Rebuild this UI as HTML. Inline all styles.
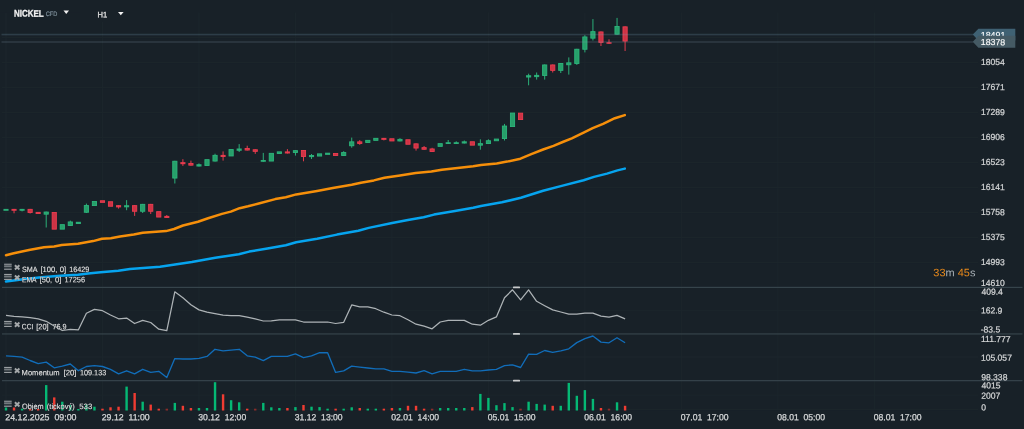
<!DOCTYPE html>
<html lang="cs">
<head>
<meta charset="utf-8">
<title>NICKEL CFD H1</title>
<style>
html,body{margin:0;padding:0;background:#182128;}
body{width:1024px;height:429px;overflow:hidden;}
svg{display:block;font-family:"Liberation Sans",sans-serif;}
.ax{fill:#d4d6d7;stroke:#d4d6d7;stroke-width:0.25px;}
.wh{fill:#ffffff;stroke:#ffffff;stroke-width:0.15px;}
.tm{fill:#d4d6d7;stroke:#d4d6d7;stroke-width:0.3px;}
.in{fill:#e6e6e6;stroke:#e6e6e6;stroke-width:0.12px;}
.sym{fill:#f4f4f4;stroke:#f4f4f4;stroke-width:0.3px;}
.cfd{fill:#7e909b;stroke:#7e909b;stroke-width:0.3px;}
.h1{fill:#dcdcdc;stroke:#dcdcdc;stroke-width:0.45px;}
.cd{stroke-width:0;}
</style>
</head>
<body>
<svg width="1024" height="429" viewBox="0 0 1024 429">
<defs><filter id="halo" x="-10%" y="-30%" width="120%" height="160%" color-interpolation-filters="sRGB"><feGaussianBlur in="SourceAlpha" stdDeviation="0.6" result="b"/><feComponentTransfer in="b" result="d"><feFuncA type="linear" slope="1.0"/></feComponentTransfer><feFlood flood-color="#182128" flood-opacity="1"/><feComposite in2="d" operator="in" result="h"/><feMerge><feMergeNode in="h"/><feMergeNode in="SourceGraphic"/></feMerge></filter></defs>
<rect width="1024" height="429" fill="#182128"/>
<g stroke="#1c262c" stroke-width="1" fill="none">
<line x1="6.00" y1="12.5" x2="6.00" y2="410"/>
<line x1="102.48" y1="12.5" x2="102.48" y2="410"/>
<line x1="198.96" y1="12.5" x2="198.96" y2="410"/>
<line x1="295.44" y1="12.5" x2="295.44" y2="410"/>
<line x1="391.92" y1="12.5" x2="391.92" y2="410"/>
<line x1="488.40" y1="12.5" x2="488.40" y2="410"/>
<line x1="584.88" y1="12.5" x2="584.88" y2="410"/>
<line x1="681.36" y1="12.5" x2="681.36" y2="410"/>
<line x1="777.84" y1="12.5" x2="777.84" y2="410"/>
<line x1="874.32" y1="12.5" x2="874.32" y2="410"/>
<line x1="2" y1="37.60" x2="978" y2="37.60"/>
<line x1="2" y1="62.60" x2="978" y2="62.60"/>
<line x1="2" y1="87.60" x2="978" y2="87.60"/>
<line x1="2" y1="112.60" x2="978" y2="112.60"/>
<line x1="2" y1="137.60" x2="978" y2="137.60"/>
<line x1="2" y1="162.60" x2="978" y2="162.60"/>
<line x1="2" y1="187.60" x2="978" y2="187.60"/>
<line x1="2" y1="212.60" x2="978" y2="212.60"/>
<line x1="2" y1="237.60" x2="978" y2="237.60"/>
<line x1="2" y1="262.60" x2="978" y2="262.60"/>
<line x1="2" y1="310.70" x2="978" y2="310.70"/>
<line x1="2" y1="357.00" x2="978" y2="357.00"/>
<line x1="2" y1="395.10" x2="978" y2="395.10"/>
<line x1="2" y1="409.60" x2="978" y2="409.60"/>
</g>
<rect x="0" y="0" width="80" height="12.5" fill="#182128"/>
<rect x="92" y="0" width="40" height="22" fill="#182128"/>
<g>
<rect x="4.80" y="407.50" width="2.4" height="3.00" fill="#05b874"/>
<rect x="12.84" y="407.50" width="2.4" height="3.00" fill="#f03c32"/>
<rect x="20.88" y="408.70" width="2.4" height="1.80" fill="#05b874"/>
<rect x="28.92" y="409.00" width="2.4" height="1.50" fill="#f03c32"/>
<rect x="36.96" y="409.00" width="2.4" height="1.50" fill="#f03c32"/>
<rect x="45.00" y="385.10" width="2.4" height="25.40" fill="#05b874"/>
<rect x="53.04" y="397.40" width="2.4" height="13.10" fill="#f03c32"/>
<rect x="61.08" y="401.70" width="2.4" height="8.80" fill="#05b874"/>
<rect x="69.12" y="405.20" width="2.4" height="5.30" fill="#05b874"/>
<rect x="77.16" y="409.00" width="2.4" height="1.50" fill="#05b874"/>
<rect x="85.20" y="404.60" width="2.4" height="5.90" fill="#05b874"/>
<rect x="93.24" y="406.70" width="2.4" height="3.80" fill="#05b874"/>
<rect x="101.28" y="408.70" width="2.4" height="1.80" fill="#f03c32"/>
<rect x="109.32" y="407.30" width="2.4" height="3.20" fill="#f03c32"/>
<rect x="117.36" y="406.70" width="2.4" height="3.80" fill="#f03c32"/>
<rect x="125.40" y="386.60" width="2.4" height="23.90" fill="#05b874"/>
<rect x="133.44" y="393.00" width="2.4" height="17.50" fill="#f03c32"/>
<rect x="141.48" y="401.70" width="2.4" height="8.80" fill="#05b874"/>
<rect x="149.52" y="404.60" width="2.4" height="5.90" fill="#f03c32"/>
<rect x="157.56" y="408.70" width="2.4" height="1.80" fill="#f03c32"/>
<rect x="165.60" y="408.70" width="2.4" height="1.80" fill="#8a2c2a"/>
<rect x="173.64" y="402.90" width="2.4" height="7.60" fill="#05b874"/>
<rect x="181.68" y="405.80" width="2.4" height="4.70" fill="#f03c32"/>
<rect x="189.72" y="408.00" width="2.4" height="2.50" fill="#f03c32"/>
<rect x="197.76" y="408.00" width="2.4" height="2.50" fill="#05b874"/>
<rect x="205.80" y="408.00" width="2.4" height="2.50" fill="#05b874"/>
<rect x="213.84" y="382.20" width="2.4" height="28.30" fill="#05b874"/>
<rect x="221.88" y="394.30" width="2.4" height="16.20" fill="#f03c32"/>
<rect x="229.92" y="400.20" width="2.4" height="10.30" fill="#05b874"/>
<rect x="237.96" y="402.30" width="2.4" height="8.20" fill="#05b874"/>
<rect x="246.00" y="408.70" width="2.4" height="1.80" fill="#f03c32"/>
<rect x="254.04" y="408.70" width="2.4" height="1.80" fill="#8a2c2a"/>
<rect x="262.08" y="402.90" width="2.4" height="7.60" fill="#05b874"/>
<rect x="270.12" y="407.30" width="2.4" height="3.20" fill="#05b874"/>
<rect x="278.16" y="408.00" width="2.4" height="2.50" fill="#05b874"/>
<rect x="286.20" y="408.00" width="2.4" height="2.50" fill="#f03c32"/>
<rect x="294.24" y="407.10" width="2.4" height="3.40" fill="#05b874"/>
<rect x="302.28" y="405.00" width="2.4" height="5.50" fill="#f03c32"/>
<rect x="310.32" y="406.70" width="2.4" height="3.80" fill="#05b874"/>
<rect x="318.36" y="407.10" width="2.4" height="3.40" fill="#05b874"/>
<rect x="326.40" y="408.70" width="2.4" height="1.80" fill="#05b874"/>
<rect x="334.44" y="408.70" width="2.4" height="1.80" fill="#f03c32"/>
<rect x="342.48" y="408.70" width="2.4" height="1.80" fill="#05b874"/>
<rect x="350.52" y="407.30" width="2.4" height="3.20" fill="#05b874"/>
<rect x="358.56" y="408.00" width="2.4" height="2.50" fill="#f03c32"/>
<rect x="366.60" y="408.70" width="2.4" height="1.80" fill="#05b874"/>
<rect x="374.64" y="408.70" width="2.4" height="1.80" fill="#05b874"/>
<rect x="382.68" y="408.70" width="2.4" height="1.80" fill="#f03c32"/>
<rect x="390.72" y="408.00" width="2.4" height="2.50" fill="#f03c32"/>
<rect x="398.76" y="408.00" width="2.4" height="2.50" fill="#05b874"/>
<rect x="406.80" y="405.80" width="2.4" height="4.70" fill="#f03c32"/>
<rect x="414.84" y="405.80" width="2.4" height="4.70" fill="#f03c32"/>
<rect x="422.88" y="408.70" width="2.4" height="1.80" fill="#f03c32"/>
<rect x="430.92" y="408.70" width="2.4" height="1.80" fill="#8a2c2a"/>
<rect x="438.96" y="408.00" width="2.4" height="2.50" fill="#05b874"/>
<rect x="447.00" y="408.00" width="2.4" height="2.50" fill="#05b874"/>
<rect x="455.04" y="408.00" width="2.4" height="2.50" fill="#05b874"/>
<rect x="463.08" y="408.00" width="2.4" height="2.50" fill="#05b874"/>
<rect x="471.12" y="407.10" width="2.4" height="3.40" fill="#f03c32"/>
<rect x="479.16" y="393.90" width="2.4" height="16.60" fill="#05b874"/>
<rect x="487.20" y="397.90" width="2.4" height="12.60" fill="#05b874"/>
<rect x="495.24" y="405.20" width="2.4" height="5.30" fill="#05b874"/>
<rect x="503.28" y="403.10" width="2.4" height="7.40" fill="#05b874"/>
<rect x="511.32" y="407.10" width="2.4" height="3.40" fill="#05b874"/>
<rect x="519.36" y="408.70" width="2.4" height="1.80" fill="#8a2c2a"/>
<rect x="527.40" y="401.70" width="2.4" height="8.80" fill="#05b874"/>
<rect x="535.44" y="403.90" width="2.4" height="6.60" fill="#05b874"/>
<rect x="543.48" y="404.60" width="2.4" height="5.90" fill="#05b874"/>
<rect x="551.52" y="405.80" width="2.4" height="4.70" fill="#f03c32"/>
<rect x="559.56" y="405.80" width="2.4" height="4.70" fill="#05b874"/>
<rect x="567.60" y="382.90" width="2.4" height="27.60" fill="#05b874"/>
<rect x="575.64" y="395.80" width="2.4" height="14.70" fill="#05b874"/>
<rect x="583.68" y="390.10" width="2.4" height="20.40" fill="#05b874"/>
<rect x="591.72" y="398.90" width="2.4" height="11.60" fill="#05b874"/>
<rect x="599.76" y="408.00" width="2.4" height="2.50" fill="#f03c32"/>
<rect x="607.80" y="408.70" width="2.4" height="1.80" fill="#8a2c2a"/>
<rect x="615.84" y="402.30" width="2.4" height="8.20" fill="#05b874"/>
<rect x="623.88" y="405.80" width="2.4" height="4.70" fill="#f03c32"/>
</g>
<path d="M6.0 281.6 L25.2 278.9 L41.5 277.3 L60.4 275.7 L78.0 274.8 L88.1 273.5 L100.7 272.2 L118.3 270.8 L130.0 268.9 L160.0 266.7 L191.8 262.0 L215.3 257.8 L238.8 254.2 L249.2 251.6 L267.5 248.4 L285.8 245.3 L296.2 242.2 L317.1 238.8 L337.0 234.6 L358.3 230.8 L368.7 227.9 L392.2 223.0 L407.9 220.1 L423.6 217.2 L434.0 214.6 L454.9 210.9 L473.2 207.8 L481.0 206.0 L501.9 202.3 L520.9 197.8 L543.1 190.8 L562.7 185.6 L583.6 180.3 L594.0 176.9 L607.0 173.6 L617.5 170.4 L624.8 168.6" stroke="#06a4ef" stroke-width="2.5" fill="none" stroke-linejoin="round" stroke-linecap="round"/>
<path d="M6.0 255.2 L13.8 253.2 L29.0 250.0 L44.0 247.3 L54.1 246.4 L61.7 245.0 L78.0 243.8 L93.1 241.1 L102.0 238.7 L110.8 238.2 L120.0 236.5 L133.8 234.6 L142.7 232.8 L166.0 231.1 L174.1 229.0 L183.0 225.5 L198.0 221.7 L208.1 218.3 L222.0 213.9 L230.8 211.6 L239.6 208.2 L248.0 206.3 L259.7 203.3 L275.3 199.1 L285.8 197.3 L296.2 194.4 L317.1 191.0 L332.8 188.1 L351.7 184.8 L360.9 182.7 L373.9 180.4 L384.4 177.8 L400.0 175.4 L415.7 173.1 L431.4 171.5 L441.8 169.7 L457.5 167.9 L473.2 166.3 L481.0 165.0 L496.7 163.4 L507.1 161.6 L520.5 158.7 L531.3 154.2 L543.1 149.5 L553.5 145.9 L562.7 142.0 L571.8 138.3 L583.6 132.6 L592.7 128.1 L603.1 123.9 L614.9 118.2 L624.8 115.1" stroke="#f68f0a" stroke-width="2.5" fill="none" stroke-linejoin="round" stroke-linecap="round"/>
<g>
<rect x="3.45" y="208.90" width="5.1" height="1.90" fill="#2cb67c" opacity="0.95"/>
<rect x="13.54" y="208.90" width="1" height="4.40" fill="#ee3c4f" opacity="0.95"/>
<rect x="11.49" y="208.90" width="5.1" height="1.90" fill="#ee3c4f" opacity="0.95"/>
<rect x="21.58" y="208.90" width="1" height="2.50" fill="#2cb67c" opacity="0.95"/>
<rect x="19.53" y="208.90" width="5.1" height="1.90" fill="#2cb67c" opacity="0.95"/>
<rect x="29.62" y="208.90" width="1" height="4.60" fill="#ee3c4f" opacity="0.95"/>
<rect x="28.02" y="209.35" width="4.2" height="3.10" fill="#cd3345" stroke="#ee3c4f" stroke-width="0.9"/>
<rect x="35.61" y="211.90" width="5.1" height="2.10" fill="#ee3c4f" opacity="0.95"/>
<rect x="45.70" y="211.60" width="1" height="15.90" fill="#2cb67c" opacity="0.95"/>
<rect x="44.10" y="212.05" width="4.2" height="2.10" fill="#279f6a" stroke="#2cb67c" stroke-width="0.9"/>
<rect x="52.14" y="212.45" width="4.2" height="16.70" fill="#cd3345" stroke="#ee3c4f" stroke-width="0.9"/>
<rect x="60.18" y="224.65" width="4.2" height="4.50" fill="#279f6a" stroke="#2cb67c" stroke-width="0.9"/>
<rect x="69.82" y="220.60" width="1" height="5.30" fill="#2cb67c" opacity="0.95"/>
<rect x="68.22" y="221.95" width="4.2" height="3.50" fill="#279f6a" stroke="#2cb67c" stroke-width="0.9"/>
<rect x="75.81" y="221.80" width="5.1" height="2.20" fill="#2cb67c" opacity="0.95"/>
<rect x="85.90" y="203.60" width="1" height="9.40" fill="#2cb67c" opacity="0.95"/>
<rect x="84.30" y="205.55" width="4.2" height="6.70" fill="#279f6a" stroke="#2cb67c" stroke-width="0.9"/>
<rect x="92.34" y="201.45" width="4.2" height="4.10" fill="#279f6a" stroke="#2cb67c" stroke-width="0.9"/>
<rect x="100.38" y="200.75" width="4.2" height="1.60" fill="#cd3345" stroke="#ee3c4f" stroke-width="0.9"/>
<rect x="108.42" y="201.75" width="4.2" height="4.50" fill="#cd3345" stroke="#ee3c4f" stroke-width="0.9"/>
<rect x="118.06" y="205.10" width="1" height="3.50" fill="#ee3c4f" opacity="0.95"/>
<rect x="116.01" y="205.10" width="5.1" height="2.30" fill="#ee3c4f" opacity="0.95"/>
<rect x="126.10" y="200.10" width="1" height="10.10" fill="#2cb67c" opacity="0.95"/>
<rect x="124.05" y="205.20" width="5.1" height="2.10" fill="#2cb67c" opacity="0.95"/>
<rect x="134.14" y="205.20" width="1" height="10.70" fill="#ee3c4f" opacity="0.95"/>
<rect x="132.54" y="205.65" width="4.2" height="5.60" fill="#cd3345" stroke="#ee3c4f" stroke-width="0.9"/>
<rect x="142.18" y="203.90" width="1" height="9.10" fill="#2cb67c" opacity="0.95"/>
<rect x="140.58" y="204.35" width="4.2" height="6.90" fill="#279f6a" stroke="#2cb67c" stroke-width="0.9"/>
<rect x="150.22" y="203.90" width="1" height="10.10" fill="#ee3c4f" opacity="0.95"/>
<rect x="148.62" y="204.35" width="4.2" height="6.90" fill="#cd3345" stroke="#ee3c4f" stroke-width="0.9"/>
<rect x="156.66" y="211.65" width="4.2" height="5.40" fill="#cd3345" stroke="#ee3c4f" stroke-width="0.9"/>
<rect x="166.30" y="215.00" width="1" height="3.00" fill="#ee3c4f" opacity="0.95"/>
<rect x="164.25" y="215.90" width="5.1" height="2.10" fill="#ee3c4f" opacity="0.95"/>
<rect x="174.34" y="160.80" width="1" height="22.70" fill="#2cb67c" opacity="0.95"/>
<rect x="172.74" y="161.25" width="4.2" height="16.80" fill="#279f6a" stroke="#2cb67c" stroke-width="0.9"/>
<rect x="182.38" y="159.20" width="1" height="6.70" fill="#ee3c4f" opacity="0.95"/>
<rect x="180.33" y="162.10" width="5.1" height="2.10" fill="#ee3c4f" opacity="0.95"/>
<rect x="190.42" y="160.60" width="1" height="5.00" fill="#ee3c4f" opacity="0.95"/>
<rect x="188.82" y="163.45" width="4.2" height="1.70" fill="#cd3345" stroke="#ee3c4f" stroke-width="0.9"/>
<rect x="198.46" y="163.40" width="1" height="3.10" fill="#2cb67c" opacity="0.95"/>
<rect x="196.41" y="164.20" width="5.1" height="2.30" fill="#2cb67c" opacity="0.95"/>
<rect x="204.90" y="159.65" width="4.2" height="5.80" fill="#279f6a" stroke="#2cb67c" stroke-width="0.9"/>
<rect x="214.54" y="153.70" width="1" height="7.80" fill="#2cb67c" opacity="0.95"/>
<rect x="212.94" y="155.35" width="4.2" height="5.70" fill="#279f6a" stroke="#2cb67c" stroke-width="0.9"/>
<rect x="222.58" y="151.40" width="1" height="9.20" fill="#ee3c4f" opacity="0.95"/>
<rect x="220.53" y="154.90" width="5.1" height="2.10" fill="#ee3c4f" opacity="0.95"/>
<rect x="229.02" y="149.55" width="4.2" height="6.40" fill="#279f6a" stroke="#2cb67c" stroke-width="0.9"/>
<rect x="238.66" y="144.10" width="1" height="7.90" fill="#2cb67c" opacity="0.95"/>
<rect x="236.61" y="148.50" width="5.1" height="2.30" fill="#2cb67c" opacity="0.95"/>
<rect x="246.70" y="145.70" width="1" height="4.80" fill="#ee3c4f" opacity="0.95"/>
<rect x="245.10" y="148.45" width="4.2" height="1.60" fill="#cd3345" stroke="#ee3c4f" stroke-width="0.9"/>
<rect x="254.74" y="149.30" width="1" height="4.60" fill="#ee3c4f" opacity="0.95"/>
<rect x="253.14" y="149.75" width="4.2" height="1.60" fill="#cd3345" stroke="#ee3c4f" stroke-width="0.9"/>
<rect x="262.78" y="152.90" width="1" height="8.90" fill="#2cb67c" opacity="0.95"/>
<rect x="260.73" y="160.00" width="5.1" height="1.80" fill="#2cb67c" opacity="0.95"/>
<rect x="269.22" y="153.35" width="4.2" height="7.70" fill="#279f6a" stroke="#2cb67c" stroke-width="0.9"/>
<rect x="277.26" y="151.85" width="4.2" height="1.60" fill="#279f6a" stroke="#2cb67c" stroke-width="0.9"/>
<rect x="286.90" y="149.10" width="1" height="4.40" fill="#ee3c4f" opacity="0.95"/>
<rect x="284.85" y="151.40" width="5.1" height="2.10" fill="#ee3c4f" opacity="0.95"/>
<rect x="294.94" y="150.20" width="1" height="5.40" fill="#2cb67c" opacity="0.95"/>
<rect x="293.34" y="150.65" width="4.2" height="1.90" fill="#279f6a" stroke="#2cb67c" stroke-width="0.9"/>
<rect x="302.98" y="150.00" width="1" height="11.30" fill="#ee3c4f" opacity="0.95"/>
<rect x="301.38" y="150.45" width="4.2" height="6.00" fill="#cd3345" stroke="#ee3c4f" stroke-width="0.9"/>
<rect x="311.02" y="154.00" width="1" height="5.00" fill="#2cb67c" opacity="0.95"/>
<rect x="308.97" y="155.00" width="5.1" height="2.10" fill="#2cb67c" opacity="0.95"/>
<rect x="317.46" y="153.85" width="4.2" height="2.20" fill="#279f6a" stroke="#2cb67c" stroke-width="0.9"/>
<rect x="325.05" y="152.70" width="5.1" height="2.20" fill="#2cb67c" opacity="0.95"/>
<rect x="333.54" y="153.45" width="4.2" height="2.00" fill="#cd3345" stroke="#ee3c4f" stroke-width="0.9"/>
<rect x="343.18" y="151.20" width="1" height="4.70" fill="#2cb67c" opacity="0.95"/>
<rect x="341.58" y="152.55" width="4.2" height="2.90" fill="#279f6a" stroke="#2cb67c" stroke-width="0.9"/>
<rect x="351.22" y="137.60" width="1" height="10.10" fill="#2cb67c" opacity="0.95"/>
<rect x="349.62" y="141.85" width="4.2" height="3.90" fill="#279f6a" stroke="#2cb67c" stroke-width="0.9"/>
<rect x="359.26" y="140.10" width="1" height="4.70" fill="#ee3c4f" opacity="0.95"/>
<rect x="357.66" y="141.85" width="4.2" height="1.60" fill="#cd3345" stroke="#ee3c4f" stroke-width="0.9"/>
<rect x="365.70" y="140.35" width="4.2" height="2.10" fill="#279f6a" stroke="#2cb67c" stroke-width="0.9"/>
<rect x="373.74" y="138.35" width="4.2" height="2.00" fill="#279f6a" stroke="#2cb67c" stroke-width="0.9"/>
<rect x="383.38" y="137.90" width="1" height="2.50" fill="#ee3c4f" opacity="0.95"/>
<rect x="381.33" y="137.90" width="5.1" height="2.00" fill="#ee3c4f" opacity="0.95"/>
<rect x="389.82" y="138.75" width="4.2" height="2.20" fill="#cd3345" stroke="#ee3c4f" stroke-width="0.9"/>
<rect x="399.46" y="138.20" width="1" height="3.20" fill="#2cb67c" opacity="0.95"/>
<rect x="397.86" y="139.35" width="4.2" height="1.60" fill="#279f6a" stroke="#2cb67c" stroke-width="0.9"/>
<rect x="405.90" y="139.75" width="4.2" height="4.50" fill="#cd3345" stroke="#ee3c4f" stroke-width="0.9"/>
<rect x="415.54" y="143.40" width="1" height="7.20" fill="#ee3c4f" opacity="0.95"/>
<rect x="413.94" y="143.85" width="4.2" height="4.20" fill="#cd3345" stroke="#ee3c4f" stroke-width="0.9"/>
<rect x="423.58" y="146.00" width="1" height="3.70" fill="#ee3c4f" opacity="0.95"/>
<rect x="421.98" y="147.65" width="4.2" height="1.60" fill="#cd3345" stroke="#ee3c4f" stroke-width="0.9"/>
<rect x="431.62" y="147.80" width="1" height="4.10" fill="#ee3c4f" opacity="0.95"/>
<rect x="430.02" y="148.95" width="4.2" height="2.50" fill="#cd3345" stroke="#ee3c4f" stroke-width="0.9"/>
<rect x="438.06" y="143.65" width="4.2" height="2.70" fill="#279f6a" stroke="#2cb67c" stroke-width="0.9"/>
<rect x="447.70" y="140.00" width="1" height="4.00" fill="#2cb67c" opacity="0.95"/>
<rect x="445.65" y="142.20" width="5.1" height="1.80" fill="#2cb67c" opacity="0.95"/>
<rect x="455.74" y="141.30" width="1" height="2.70" fill="#2cb67c" opacity="0.95"/>
<rect x="453.69" y="142.20" width="5.1" height="1.80" fill="#2cb67c" opacity="0.95"/>
<rect x="463.78" y="140.50" width="1" height="3.00" fill="#2cb67c" opacity="0.95"/>
<rect x="461.73" y="141.30" width="5.1" height="2.20" fill="#2cb67c" opacity="0.95"/>
<rect x="470.22" y="141.75" width="4.2" height="3.40" fill="#cd3345" stroke="#ee3c4f" stroke-width="0.9"/>
<rect x="479.86" y="139.30" width="1" height="10.40" fill="#2cb67c" opacity="0.95"/>
<rect x="478.26" y="143.65" width="4.2" height="1.50" fill="#279f6a" stroke="#2cb67c" stroke-width="0.9"/>
<rect x="487.90" y="139.30" width="1" height="4.70" fill="#2cb67c" opacity="0.95"/>
<rect x="486.30" y="140.75" width="4.2" height="2.80" fill="#279f6a" stroke="#2cb67c" stroke-width="0.9"/>
<rect x="494.34" y="139.05" width="4.2" height="1.70" fill="#279f6a" stroke="#2cb67c" stroke-width="0.9"/>
<rect x="503.98" y="123.90" width="1" height="16.60" fill="#2cb67c" opacity="0.95"/>
<rect x="502.38" y="126.05" width="4.2" height="12.50" fill="#279f6a" stroke="#2cb67c" stroke-width="0.9"/>
<rect x="510.42" y="113.05" width="4.2" height="13.50" fill="#279f6a" stroke="#2cb67c" stroke-width="0.9"/>
<rect x="518.46" y="113.15" width="4.2" height="6.40" fill="#cd3345" stroke="#ee3c4f" stroke-width="0.9"/>
<rect x="528.10" y="73.70" width="1" height="11.60" fill="#2cb67c" opacity="0.95"/>
<rect x="526.05" y="75.20" width="5.1" height="2.30" fill="#2cb67c" opacity="0.95"/>
<rect x="536.14" y="72.50" width="1" height="7.10" fill="#2cb67c" opacity="0.95"/>
<rect x="534.09" y="74.90" width="5.1" height="2.20" fill="#2cb67c" opacity="0.95"/>
<rect x="544.18" y="64.50" width="1" height="15.10" fill="#2cb67c" opacity="0.95"/>
<rect x="542.58" y="64.95" width="4.2" height="10.50" fill="#279f6a" stroke="#2cb67c" stroke-width="0.9"/>
<rect x="552.22" y="64.50" width="1" height="8.00" fill="#ee3c4f" opacity="0.95"/>
<rect x="550.62" y="64.95" width="4.2" height="5.40" fill="#cd3345" stroke="#ee3c4f" stroke-width="0.9"/>
<rect x="560.26" y="63.00" width="1" height="10.00" fill="#2cb67c" opacity="0.95"/>
<rect x="558.66" y="63.45" width="4.2" height="6.90" fill="#279f6a" stroke="#2cb67c" stroke-width="0.9"/>
<rect x="568.30" y="57.40" width="1" height="17.20" fill="#2cb67c" opacity="0.95"/>
<rect x="566.70" y="62.85" width="4.2" height="1.90" fill="#279f6a" stroke="#2cb67c" stroke-width="0.9"/>
<rect x="576.34" y="48.80" width="1" height="16.10" fill="#2cb67c" opacity="0.95"/>
<rect x="574.74" y="49.25" width="4.2" height="14.20" fill="#279f6a" stroke="#2cb67c" stroke-width="0.9"/>
<rect x="584.38" y="35.20" width="1" height="17.20" fill="#2cb67c" opacity="0.95"/>
<rect x="582.78" y="36.95" width="4.2" height="12.30" fill="#279f6a" stroke="#2cb67c" stroke-width="0.9"/>
<rect x="592.42" y="19.10" width="1" height="21.40" fill="#2cb67c" opacity="0.95"/>
<rect x="590.82" y="31.65" width="4.2" height="6.50" fill="#279f6a" stroke="#2cb67c" stroke-width="0.9"/>
<rect x="600.46" y="31.50" width="1" height="14.50" fill="#ee3c4f" opacity="0.95"/>
<rect x="598.86" y="31.95" width="4.2" height="10.40" fill="#cd3345" stroke="#ee3c4f" stroke-width="0.9"/>
<rect x="608.50" y="39.30" width="1" height="4.50" fill="#ee3c4f" opacity="0.95"/>
<rect x="606.45" y="42.20" width="5.1" height="1.60" fill="#ee3c4f" opacity="0.95"/>
<rect x="616.54" y="17.90" width="1" height="16.70" fill="#2cb67c" opacity="0.95"/>
<rect x="614.94" y="26.45" width="4.2" height="7.70" fill="#279f6a" stroke="#2cb67c" stroke-width="0.9"/>
<rect x="624.58" y="26.40" width="1" height="24.60" fill="#ee3c4f" opacity="0.95"/>
<rect x="622.98" y="26.85" width="4.2" height="14.20" fill="#cd3345" stroke="#ee3c4f" stroke-width="0.9"/>
</g>
<rect x="1.5" y="33.75" width="972" height="1.6" fill="#7aa4ba" opacity="0.22"/>
<rect x="1.5" y="41.2" width="972" height="1.6" fill="#88a2ae" opacity="0.2"/>
<path d="M972.8 34.6 L978.4 28.8 H1015.3 V40.5 H978.4 Z" fill="#3f6173"/>
<text transform="translate(980.79 37.90) rotate(0.1) scale(0.8830 0.8800)" font-size="10" class="wh" xml:space="preserve" >18491</text>
<path d="M972.8 41.7 L978.4 35.8 H1015.3 V47.7 H978.4 Z" fill="#455a64"/>
<text transform="translate(980.80 45.10) rotate(0.1) scale(0.8797 0.8800)" font-size="10" class="wh" xml:space="preserve" >18378</text>
<path d="M6.0 315.4 L14.0 316.4 L22.1 316.9 L30.1 317.6 L38.2 318.8 L46.2 321.3 L54.2 326.0 L62.3 330.5 L70.3 329.3 L78.4 329.8 L86.4 313.2 L94.4 309.4 L102.5 310.7 L110.5 315.0 L118.6 318.8 L126.6 318.1 L134.6 323.5 L142.7 320.4 L150.7 322.5 L158.8 329.2 L166.8 330.7 L174.8 291.8 L182.9 297.7 L190.9 304.7 L199.0 309.9 L207.0 312.2 L215.0 313.7 L223.1 315.1 L231.1 315.7 L239.2 315.6 L247.2 317.1 L255.2 318.9 L263.3 321.0 L271.3 320.8 L279.4 319.8 L287.4 319.8 L295.4 319.8 L303.5 322.0 L311.5 322.0 L319.6 322.0 L327.6 322.0 L335.6 323.5 L343.7 322.3 L351.7 304.9 L359.8 306.8 L367.8 306.9 L375.8 308.7 L383.9 312.2 L391.9 315.0 L400.0 315.7 L408.0 319.8 L416.0 324.2 L424.1 326.1 L432.1 328.8 L440.2 322.0 L448.2 320.4 L456.2 320.4 L464.3 320.4 L472.3 324.2 L480.4 325.2 L488.4 320.3 L496.4 316.9 L504.5 297.7 L512.5 289.8 L520.6 299.9 L528.6 289.8 L536.6 301.3 L544.7 305.7 L552.7 309.9 L560.8 312.0 L568.8 314.2 L576.8 314.2 L584.9 313.1 L592.9 313.1 L601.0 316.1 L609.0 317.2 L617.0 315.4 L625.1 318.8" stroke="#adb3b6" stroke-width="1.25" fill="none" stroke-linejoin="round"/>
<path d="M6.0 355.8 L14.0 356.4 L22.1 357.1 L30.1 360.5 L38.2 363.6 L46.2 362.1 L54.2 367.8 L62.3 366.2 L70.3 364.0 L78.4 370.7 L86.4 366.5 L94.4 365.6 L102.5 366.5 L110.5 369.3 L118.6 373.8 L126.6 370.8 L134.6 373.8 L142.7 369.3 L150.7 372.4 L158.8 371.3 L166.8 377.5 L174.8 358.6 L182.9 359.0 L190.9 359.0 L199.0 358.3 L207.0 356.4 L215.0 349.3 L223.1 350.8 L231.1 350.1 L239.2 349.3 L247.2 355.8 L255.2 357.1 L263.3 360.6 L271.3 356.4 L279.4 356.4 L287.4 356.4 L295.4 353.9 L303.5 357.7 L311.5 355.8 L319.6 352.7 L327.6 352.7 L335.6 372.4 L343.7 370.9 L351.7 366.2 L359.8 367.1 L367.8 368.0 L375.8 368.8 L383.9 368.8 L391.9 371.3 L400.0 371.3 L408.0 372.2 L416.0 373.0 L424.1 370.7 L432.1 373.8 L440.2 371.3 L448.2 371.3 L456.2 371.3 L464.3 369.3 L472.3 370.9 L480.4 370.9 L488.4 370.0 L496.4 369.3 L504.5 365.6 L512.5 364.9 L520.6 367.5 L528.6 354.2 L536.6 354.3 L544.7 350.5 L552.7 352.3 L560.8 350.9 L568.8 348.8 L576.8 342.6 L584.9 338.6 L592.9 336.0 L601.0 342.1 L609.0 342.8 L617.0 337.8 L625.1 342.8" stroke="#116db9" stroke-width="1.35" fill="none" stroke-linejoin="round"/>
<rect x="2" y="286.80" width="1020.5" height="1.2" fill="#36444b"/>
<rect x="513" y="286.50" width="7" height="1.8" rx="0.6" fill="#c9cbcc"/>
<rect x="2" y="333.35" width="1020.5" height="1.2" fill="#36444b"/>
<rect x="513" y="333.05" width="7" height="1.8" rx="0.6" fill="#c9cbcc"/>
<rect x="2" y="380.05" width="1020.5" height="1.2" fill="#36444b"/>
<rect x="513" y="379.75" width="7" height="1.8" rx="0.6" fill="#c9cbcc"/>
<text transform="translate(980.91 65.10) rotate(0.1) scale(0.8580 0.8800)" font-size="10" class="ax" xml:space="preserve" >18054</text>
<text transform="translate(980.91 90.10) rotate(0.1) scale(0.8580 0.8800)" font-size="10" class="ax" xml:space="preserve" >17671</text>
<text transform="translate(980.91 115.10) rotate(0.1) scale(0.8580 0.8800)" font-size="10" class="ax" xml:space="preserve" >17289</text>
<text transform="translate(980.91 140.10) rotate(0.1) scale(0.8580 0.8800)" font-size="10" class="ax" xml:space="preserve" >16906</text>
<text transform="translate(980.91 165.10) rotate(0.1) scale(0.8580 0.8800)" font-size="10" class="ax" xml:space="preserve" >16523</text>
<text transform="translate(980.91 190.10) rotate(0.1) scale(0.8580 0.8800)" font-size="10" class="ax" xml:space="preserve" >16141</text>
<text transform="translate(980.91 215.10) rotate(0.1) scale(0.8580 0.8800)" font-size="10" class="ax" xml:space="preserve" >15758</text>
<text transform="translate(980.91 240.10) rotate(0.1) scale(0.8580 0.8800)" font-size="10" class="ax" xml:space="preserve" >15375</text>
<text transform="translate(980.91 265.10) rotate(0.1) scale(0.8580 0.8800)" font-size="10" class="ax" xml:space="preserve" >14993</text>
<text transform="translate(980.91 286.00) rotate(0.1) scale(0.8580 0.8800)" font-size="10" class="ax" xml:space="preserve" >14610</text>
<text transform="translate(981.43 294.80) rotate(0.1) scale(0.8580 0.8800)" font-size="10" class="ax" xml:space="preserve" >409.4</text>
<text transform="translate(980.91 313.60) rotate(0.1) scale(0.8580 0.8800)" font-size="10" class="ax" xml:space="preserve" >162.9</text>
<text transform="translate(980.66 332.50) rotate(0.1) scale(0.8580 0.8800)" font-size="10" class="ax" xml:space="preserve" >-83.5</text>
<text transform="translate(980.91 342.10) rotate(0.1) scale(0.8580 0.8800)" font-size="10" class="ax" xml:space="preserve" >111.777</text>
<text transform="translate(980.91 360.80) rotate(0.1) scale(0.8580 0.8800)" font-size="10" class="ax" xml:space="preserve" >105.057</text>
<text transform="translate(981.17 380.20) rotate(0.1) scale(0.8580 0.8800)" font-size="10" class="ax" xml:space="preserve" >98.338</text>
<text transform="translate(981.43 388.50) rotate(0.1) scale(0.8580 0.8800)" font-size="10" class="ax" xml:space="preserve" >4015</text>
<text transform="translate(981.17 398.80) rotate(0.1) scale(0.8580 0.8800)" font-size="10" class="ax" xml:space="preserve" >2007</text>
<text transform="translate(981.26 410.40) rotate(0.1) scale(0.8580 0.8800)" font-size="10" class="ax" xml:space="preserve" >0</text>
<text transform="translate(5.26 420.20) rotate(0.1) scale(0.8858 0.8900)" font-size="10" class="tm" xml:space="preserve" >24.12.2025  09:00</text>
<text transform="translate(101.74 420.20) rotate(0.1) scale(0.8741 0.8900)" font-size="10" class="tm" xml:space="preserve" >29.12  11:00</text>
<text transform="translate(198.32 420.20) rotate(0.1) scale(0.8613 0.8900)" font-size="10" class="tm" xml:space="preserve" >30.12  12:00</text>
<text transform="translate(294.80 420.20) rotate(0.1) scale(0.8613 0.8900)" font-size="10" class="tm" xml:space="preserve" >31.12  13:00</text>
<text transform="translate(391.28 420.20) rotate(0.1) scale(0.8613 0.8900)" font-size="10" class="tm" xml:space="preserve" >02.01  14:00</text>
<text transform="translate(487.76 420.20) rotate(0.1) scale(0.8613 0.8900)" font-size="10" class="tm" xml:space="preserve" >05.01  15:00</text>
<text transform="translate(584.24 420.20) rotate(0.1) scale(0.8613 0.8900)" font-size="10" class="tm" xml:space="preserve" >06.01  16:00</text>
<text transform="translate(680.72 420.20) rotate(0.1) scale(0.8613 0.8900)" font-size="10" class="tm" xml:space="preserve" >07.01  17:00</text>
<text transform="translate(777.20 420.20) rotate(0.1) scale(0.8613 0.8900)" font-size="10" class="tm" xml:space="preserve" >08.01  05:00</text>
<text transform="translate(873.68 420.20) rotate(0.1) scale(0.8613 0.8900)" font-size="10" class="tm" xml:space="preserve" >08.01  17:00</text>
<text transform="translate(933.36 276.30) rotate(0.1) scale(1.0957 1.0800)" font-size="10" class="cd" xml:space="preserve" ><tspan fill="#e8891a">33</tspan><tspan fill="#aab2b7">m </tspan><tspan fill="#e8891a">45</tspan><tspan fill="#aab2b7">s</tspan></text>
<g fill="#9a9fa2"><rect x="4.1" y="263.70" width="7.6" height="1.1"/><rect x="4.1" y="265.30" width="7.6" height="2.0" opacity="0.7"/><rect x="4.1" y="268.60" width="7.6" height="1.2"/></g>
<path d="M14.9 265.30 L19.4 269.50 M19.4 265.30 L14.9 269.50" stroke="#a4a8aa" stroke-width="1.9" fill="none"/>
<g filter="url(#halo)">
<text transform="translate(21.94 272.00) rotate(0.1) scale(0.7204 0.7700)" font-size="10" class="in" xml:space="preserve" >SMA</text>
<text transform="translate(40.47 272.00) rotate(0.1) scale(0.7585 0.7700)" font-size="10" class="in" xml:space="preserve" >[100,</text>
<text transform="translate(59.69 272.00) rotate(0.1) scale(0.7778 0.7700)" font-size="10" class="in" xml:space="preserve" >0]</text>
<text transform="translate(69.22 272.00) rotate(0.1) scale(0.7245 0.7700)" font-size="10" class="in" xml:space="preserve" >16429</text>
</g>
<g fill="#9a9fa2"><rect x="4.1" y="273.90" width="7.6" height="1.1"/><rect x="4.1" y="275.50" width="7.6" height="2.0" opacity="0.7"/><rect x="4.1" y="278.80" width="7.6" height="1.2"/></g>
<path d="M14.9 275.50 L19.4 279.70 M19.4 275.50 L14.9 279.70" stroke="#a4a8aa" stroke-width="1.9" fill="none"/>
<g filter="url(#halo)">
<text transform="translate(21.96 282.20) rotate(0.1) scale(0.6779 0.7700)" font-size="10" class="in" xml:space="preserve" >EMA</text>
<text transform="translate(39.79 282.20) rotate(0.1) scale(0.7351 0.7700)" font-size="10" class="in" xml:space="preserve" >[50,</text>
<text transform="translate(54.99 282.20) rotate(0.1) scale(0.7778 0.7700)" font-size="10" class="in" xml:space="preserve" >0]</text>
<text transform="translate(64.51 282.20) rotate(0.1) scale(0.7406 0.7700)" font-size="10" class="in" xml:space="preserve" >17256</text>
</g>
<g fill="#9a9fa2"><rect x="4.1" y="320.90" width="7.6" height="1.1"/><rect x="4.1" y="322.50" width="7.6" height="2.0" opacity="0.7"/><rect x="4.1" y="325.80" width="7.6" height="1.2"/></g>
<path d="M14.9 322.50 L19.4 326.70 M19.4 322.50 L14.9 326.70" stroke="#a4a8aa" stroke-width="1.9" fill="none"/>
<g filter="url(#halo)">
<text transform="translate(21.86 329.20) rotate(0.1) scale(0.6709 0.7700)" font-size="10" class="in" xml:space="preserve" >CCI</text>
<text transform="translate(36.18 329.20) rotate(0.1) scale(0.7451 0.7700)" font-size="10" class="in" xml:space="preserve" >[20]</text>
<text transform="translate(52.44 329.20) rotate(0.1) scale(0.7243 0.7700)" font-size="10" class="in" xml:space="preserve" >76.9</text>
</g>
<g fill="#9a9fa2"><rect x="4.1" y="366.90" width="7.6" height="1.1"/><rect x="4.1" y="368.50" width="7.6" height="2.0" opacity="0.7"/><rect x="4.1" y="371.80" width="7.6" height="1.2"/></g>
<path d="M14.9 368.50 L19.4 372.70 M19.4 368.50 L14.9 372.70" stroke="#a4a8aa" stroke-width="1.9" fill="none"/>
<g filter="url(#halo)">
<text transform="translate(21.59 375.20) rotate(0.1) scale(0.7593 0.7700)" font-size="10" class="in" xml:space="preserve" >Momentum</text>
<text transform="translate(63.45 375.20) rotate(0.1) scale(0.7843 0.7700)" font-size="10" class="in" xml:space="preserve" >[20]</text>
<text transform="translate(80.02 375.20) rotate(0.1) scale(0.7249 0.7700)" font-size="10" class="in" xml:space="preserve" >109.133</text>
</g>
<g fill="#9a9fa2"><rect x="4.1" y="400.70" width="7.6" height="1.1"/><rect x="4.1" y="402.30" width="7.6" height="2.0" opacity="0.7"/><rect x="4.1" y="405.60" width="7.6" height="1.2"/></g>
<path d="M14.9 402.30 L19.4 406.50 M19.4 402.30 L14.9 406.50" stroke="#a4a8aa" stroke-width="1.9" fill="none"/>
<g filter="url(#halo)">
<text transform="translate(22.03 409.00) rotate(0.1) scale(0.7350 0.7700)" font-size="10" class="in" xml:space="preserve" >Objem</text>
<text transform="translate(46.85 409.00) rotate(0.1) scale(0.7472 0.7700)" font-size="10" class="in" xml:space="preserve" >(tickový)</text>
<text transform="translate(79.29 409.00) rotate(0.1) scale(0.7785 0.7700)" font-size="10" class="in" xml:space="preserve" >533</text>
</g>
<text transform="translate(14.04 16.60) rotate(0.1) scale(0.7983 0.9600)" font-size="10" font-weight="bold" class="sym" xml:space="preserve" >NICKEL</text>
<text transform="translate(45.72 15.90) rotate(0.1) scale(0.5612 0.6400)" font-size="10" class="cfd" xml:space="preserve" >CFD</text>
<path d="M63.5 10.6 H69.0 L66.25 14.0 Z" fill="#f2f2f2"/>
<text transform="translate(97.49 17.30) rotate(0.1) scale(0.7565 0.7700)" font-size="10" class="h1" xml:space="preserve" >H1</text>
<path d="M118.0 12.0 H123.6 L120.8 15.3 Z" fill="#f2f2f2"/>
</svg>
</body>
</html>
